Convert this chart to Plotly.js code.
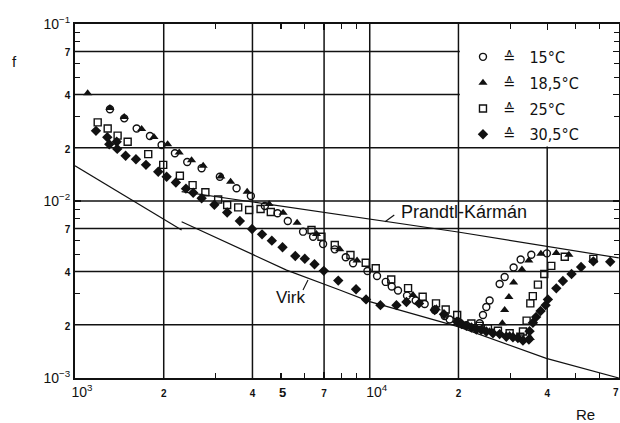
<!DOCTYPE html>
<html>
<head>
<meta charset="utf-8">
<script src="https://cdn.plot.ly/plotly-3.0.1.min.js"></script>
<style>
  html, body { margin: 0; padding: 0; background: #fff; }
  #chart { width: 620px; height: 423px; }
</style>
</head>
<body>
<div id="chart"></div>
<script>
// Friction factor f versus Reynolds number Re at four temperatures
const re15 = [1314, 1469, 1619, 1796, 1967, 2183, 2403, 2689, 3101, 3533, 3951, 4406, 4866, 5272, 5940, 6424, 6945, 7609, 8291, 8778, 9822, 10586, 11330, 11874, 12472, 13380, 14320, 15360, 16610, 17960, 18670, 19920, 21270, 23600, 24220, 24860, 25510, 27590, 28690, 30770, 32510, 35330, 39900];
const f15 = [0.0330, 0.0293, 0.0257, 0.0233, 0.0207, 0.0186, 0.0166, 0.0153, 0.0137, 0.0118, 0.01067, 0.00937, 0.00852, 0.00771, 0.00671, 0.00628, 0.00571, 0.00533, 0.00481, 0.00445, 0.00402, 0.00377, 0.00349, 0.00329, 0.00312, 0.00292, 0.00274, 0.00262, 0.00242, 0.00224, 0.00214, 0.00208, 0.00199, 0.00204, 0.00227, 0.00252, 0.00274, 0.00340, 0.00372, 0.00421, 0.00467, 0.00497, 0.00506];

const re185 = [1104, 1314, 1469, 1683, 1853, 2062, 2257, 2486, 2722, 3125, 3372, 3838, 4557, 5083, 5670, 6597, 7911, 9056, 14020, 16830, 21830, 25510, 29830, 35060, 28180, 28690, 29660, 30770, 32840, 34650, 38080, 42950, 47380];
const f185 = [0.0406, 0.0335, 0.0298, 0.0255, 0.0230, 0.0209, 0.0188, 0.0170, 0.0158, 0.01375, 0.01285, 0.01129, 0.00962, 0.00859, 0.00754, 0.00651, 0.00533, 0.00461, 0.00294, 0.00248, 0.00195, 0.00184, 0.00175, 0.00168, 0.00204, 0.00242, 0.00287, 0.00346, 0.00410, 0.00461, 0.00503, 0.00508, 0.00497];

const re25 = [1194, 1291, 1395, 1509, 1772, 1992, 2269, 2506, 2769, 3060, 3283, 3578, 3898, 4262, 4617, 6344, 6859, 7609, 8601, 9692, 10480, 11830, 13490, 15120, 16780, 18100, 19800, 22120, 23600, 25180, 27220, 29830, 32430, 33100, 34060, 35060, 35750, 37200, 39100, 41300, 45880, 57360];
const f25 = [0.0278, 0.0257, 0.0234, 0.0216, 0.0184, 0.0160, 0.0139, 0.0123, 0.0112, 0.0102, 0.00949, 0.00921, 0.00890, 0.00901, 0.00867, 0.00686, 0.00628, 0.00564, 0.00495, 0.00448, 0.00417, 0.00360, 0.00322, 0.00288, 0.00264, 0.00244, 0.00227, 0.00203, 0.00197, 0.00191, 0.00185, 0.00179, 0.00171, 0.00183, 0.00211, 0.00264, 0.00290, 0.00337, 0.00387, 0.00430, 0.00484, 0.00471];

const re305 = [1178, 1287, 1307, 1385, 1391, 1485, 1610, 1741, 1916, 2046, 2199, 2379, 2518, 2689, 2971, 3283, 3625, 3988, 4311, 4654, 5059, 5590, 6021, 6495, 6984, 7819, 8986, 9716, 10870, 12320, 13320, 14700, 16610, 17860, 19770, 20510, 21270, 22120, 23000, 23910, 24860, 26180, 27590, 29070, 30610, 31820, 33100, 34670, 34860, 35780, 36680, 37990, 39510, 40220, 42950, 45220, 48380, 52120, 57360, 65450];
const f305 = [0.0249, 0.0229, 0.0209, 0.0216, 0.0197, 0.0180, 0.0172, 0.0160, 0.01464, 0.01372, 0.01272, 0.01174, 0.01114, 0.01036, 0.00953, 0.00861, 0.00771, 0.00695, 0.00648, 0.00597, 0.00548, 0.00489, 0.00472, 0.00439, 0.00403, 0.00355, 0.00317, 0.00278, 0.00258, 0.00258, 0.00269, 0.00264, 0.00242, 0.00229, 0.00208, 0.00202, 0.00197, 0.00193, 0.00188, 0.00187, 0.00183, 0.00179, 0.00177, 0.00171, 0.00170, 0.00168, 0.00163, 0.00165, 0.00184, 0.00205, 0.00221, 0.00239, 0.00258, 0.00278, 0.00321, 0.00353, 0.00387, 0.00424, 0.00456, 0.00454];

// Reference curves
const laminarRe = [1000, 2300];
const laminarF = [0.0158, 0.00685];
const virkRe = [2300, 4022, 5220, 7912, 10000, 19920, 39720, 70000];
const virkF = [0.00764, 0.00496, 0.00407, 0.00314, 0.0027, 0.00195, 0.00129, 0.00100];
const prandtlRe = [2300, 7912, 19920, 70000];
const prandtlF = [0.0113, 0.00834, 0.00668, 0.00477];

// Legend labels
const seriesNames = ['15°C', '18,5°C', '25°C', '30,5°C'];

// Axis ticks and grid
const xTickVals = [1000, 2000, 4000, 7000, 10000, 20000, 40000, 70000];
const xTickText = ['10^3', '2', '4', '7', '10^4', '2', '4', '7'];
const xMinorVals = [3000, 5000, 6000, 8000, 9000, 30000, 50000, 60000];
const xGridVals = [2000, 4000, 7000, 10000, 20000, 40000];
const yTickVals = [0.001, 0.002, 0.004, 0.007, 0.01, 0.02, 0.04, 0.07, 0.1];
const yTickText = ['10^-3', '2', '4', '7', '10^-2', '2', '4', '7', '10^-1'];
const yMinorVals = [0.003, 0.005, 0.006, 0.008, 0.009, 0.03, 0.05, 0.06, 0.08, 0.09];
const yGridVals = [0.002, 0.004, 0.007, 0.01, 0.02, 0.04, 0.07];

// a hair past 7·10^4 so the last tick is kept
const X_RANGE = [3, Math.log10(70000) + 0.0006];
const Y_RANGE = [-3, -1];

const INK = '#111';
const SANS = 'Liberation Sans, Arial, Helvetica, sans-serif';
const NARROW = 'Liberation Sans Narrow, DejaVu Sans Condensed, Arial Narrow, sans-serif';

// fractional position of a value along a log axis
const xFrac = v => (Math.log10(v) - X_RANGE[0]) / (X_RANGE[1] - X_RANGE[0]);
const yFrac = v => (Math.log10(v) - Y_RANGE[0]) / (Y_RANGE[1] - Y_RANGE[0]);

function fmtTick(t, isX) {
  const m = t.match(/^10\^(.+)$/);
  if (m) {
    const pad = isX ? '\u2002\u2002' : '';
    return pad + '<span style="font-size:14px">10<sup>' + m[1].replace('-', '\u2212') + '</sup></span>';
  }
  return '<b><span style="font-size:10px">' + t + '</span></b>';
}

// the right-most x label sits on the page edge, so it is placed as an annotation just inside
const lastX = xTickText.length - 1;
const xTickLabels = xTickText.map((t, i) => (i === lastX ? '' : fmtTick(t, true)));

function pts(x, y, name, symbol, size, open) {
  return {
    x: x, y: y, name: '\u2259\u2002\u2002' + name, type: 'scatter', mode: 'markers',
    legendgroup: name,
    marker: {
      symbol: symbol, size: size, color: INK,
      line: { color: INK, width: open ? 1.4 : 0 }
    },
    hoverinfo: 'skip'
  };
}

function curve(x, y) {
  return {
    x: x, y: y, type: 'scatter', mode: 'lines', showlegend: false,
    line: { color: INK, width: 1.2 }, hoverinfo: 'skip'
  };
}

const traces = [
  curve(laminarRe, laminarF),
  curve(virkRe, virkF),
  curve(prandtlRe, prandtlF),
  pts(re15, f15, seriesNames[0], 'circle-open', 7, true),
  pts(re185, f185, seriesNames[1], 'triangle-up', 8, false),
  pts(re25, f25, seriesNames[2], 'square-open', 7, true),
  pts(re305, f305, seriesNames[3], 'diamond', 8, false)
];

const axisCommon = {
  type: 'log',
  showline: true, linewidth: 2, linecolor: INK, mirror: 'allticks',
  ticks: 'inside', ticklen: 6, tickwidth: 1.2, tickcolor: INK,
  showgrid: false, zeroline: false, tickmode: 'array',
  tickfont: { family: SANS, size: 14, color: INK }
};

const GRID = { color: INK, width: 1.5 };
const gridShapes = [
  ...xGridVals.map(v => ({ type: 'line', xref: 'paper', yref: 'paper', x0: xFrac(v), x1: xFrac(v), y0: 0, y1: 1, line: GRID, layer: 'below' })),
  ...yGridVals.map(v => ({ type: 'line', xref: 'paper', yref: 'paper', x0: 0, x1: 1, y0: yFrac(v), y1: yFrac(v), line: GRID, layer: 'below' }))
];

const layout = {
  width: 620, height: 423,
  margin: { l: 75, r: 1, t: 24, b: 45, pad: 0 },
  paper_bgcolor: '#fff', plot_bgcolor: 'rgba(0,0,0,0)',
  showlegend: true,
  legend: {
    x: 0.7132, xanchor: 'left', y: 0.955, yanchor: 'top',
    bgcolor: 'rgba(0,0,0,0)', borderwidth: 0,
    tracegroupgap: 2,
    font: { family: NARROW, size: 16, color: INK }
  },
  xaxis: Object.assign({}, axisCommon, {
    range: X_RANGE,
    tickvals: xTickVals, ticktext: xTickLabels,
    minor: { tickmode: 'array', tickvals: xMinorVals, ticks: 'inside', ticklen: 5, tickwidth: 1.1, tickcolor: INK, showgrid: false }
  }),
  yaxis: Object.assign({}, axisCommon, {
    range: Y_RANGE,
    tickvals: yTickVals, ticktext: yTickText.map(t => fmtTick(t, false)),
    minor: { tickmode: 'array', tickvals: yMinorVals, ticks: 'inside', ticklen: 5, tickwidth: 1.1, tickcolor: INK, showgrid: false }
  }),
  shapes: [
    ...gridShapes,
    // blank panel behind the legend, bounded by the 2·10^4 and 2·10^-2 grid lines
    { type: 'rect', xref: 'paper', yref: 'paper', x0: xFrac(20000) + 0.0025, x1: 1, y0: yFrac(0.02) + 0.0035, y1: 1,
      fillcolor: '#fff', line: { width: 0 }, layer: 'below' },
    // leader lines to the curve labels
    { type: 'line', xref: 'paper', yref: 'paper', x0: 0.4191, y0: 0.2486, x1: 0.4283, y1: 0.2768,
      line: { color: INK, width: 1.1 } },
    { type: 'line', xref: 'paper', yref: 'paper', x0: 0.5699, y0: 0.4415, x1: 0.5869, y1: 0.4605,
      line: { color: INK, width: 1.1 } }
  ],
  annotations: [
    { text: 'Prandtl-Kármán', xref: 'paper', yref: 'paper', x: 0.7142, y: 0.4689, xanchor: 'center', yanchor: 'middle',
      showarrow: false, font: { family: SANS, size: 18, color: INK } },
    { text: 'Virk', xref: 'paper', yref: 'paper', x: 0.3961, y: 0.2288, xanchor: 'center', yanchor: 'middle',
      showarrow: false, font: { family: SANS, size: 17, color: INK } },
    { text: 'f', xref: 'paper', yref: 'paper', x: -0.1103, y: 0.8927, xanchor: 'center', yanchor: 'middle',
      showarrow: false, font: { family: SANS, size: 15, color: INK } },
    { text: 'Re', xref: 'paper', yref: 'paper', x: 0.9384, y: -0.1017, xanchor: 'center', yanchor: 'middle',
      showarrow: false, font: { family: SANS, size: 15, color: INK } },
    { text: '<b>5</b>', xref: 'paper', yref: 'paper', x: xFrac(5000) + 0.003, y: -0.04, xanchor: 'center', yanchor: 'middle',
      showarrow: false, font: { family: SANS, size: 13, color: INK } },
    { text: '<b>' + xTickText[lastX] + '</b>', xref: 'paper', yref: 'paper', x: 1.003, y: -0.042, xanchor: 'right', yanchor: 'middle',
      showarrow: false, font: { family: SANS, size: 10, color: INK } }
  ]
};

Plotly.newPlot('chart', traces, layout, { staticPlot: true, displayModeBar: false });
</script>
</body>
</html>
